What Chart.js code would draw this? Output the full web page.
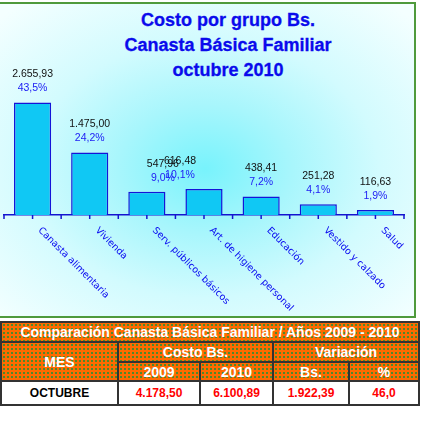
<!DOCTYPE html>
<html>
<head>
<meta charset="utf-8">
<script src="https://cdn.jsdelivr.net/npm/chart.js@4/dist/chart.umd.min.js"></script>
<style>
body { margin: 0; background: #fff; font-family: "Liberation Sans", Arial, sans-serif; }
#panel {
    position: absolute; left: 0; top: 2px; width: 414px; height: 312px;
    border: 2px solid #4f9a3c; border-left: none;
    background: radial-gradient(ellipse 290px 215px at 205px 165px, #78f3fc 0%, #a8f6fc 30%, #d2fbfe 60%, #f4ffff 100%);
}
#title {
    position: absolute; left: 90px; top: 8px; width: 276px; text-align: center;
    color: #0a0aec; font: bold 18px/25px "Liberation Sans", Arial, sans-serif;
    -webkit-text-stroke: 0.3px #0a0aec;
}
#wrap { position: absolute; left: 0; top: 0; width: 416px; height: 318px; }
#tbl {
    position: absolute; left: 0; top: 321px; width: 418px;
    border-collapse: collapse; table-layout: fixed;
}
#tbl td { border: 2px solid #333; padding: 0; text-align: center; font-weight: bold; }
#tbl tr.h td {
    color: #fff; background-color: #ff6a00;
    background-image: radial-gradient(circle, #4c8a2a 0.7px, transparent 1px);
    background-size: 4px 4px;
}
#tbl tr.h td { font-size: 14px; }
#tbl td.t { font-size: 13px; height: 18px; }
#tbl td.mes { font-size: 16px; }
#tbl tr.d td { background: #fff; color: #ff0000; font-size: 12px; height: 22px; }
#tbl tr.d td.m { color: #000; }
</style>
</head>
<body>
<div id="panel"></div>
<div id="title">Costo por grupo Bs.<br>Canasta Básica Familiar<br>octubre 2010</div>
<div id="wrap"><canvas id="myChart" width="416" height="318"></canvas></div>
<table id="tbl">
  <colgroup><col style="width:117px"><col style="width:82px"><col style="width:73px"><col style="width:76px"><col style="width:70px"></colgroup>
  <tr class="h"><td colspan="5" class="t" id="tblTitle"></td></tr>
  <tr class="h" style="height:20px"><td rowspan="2" class="mes">MES</td><td colspan="2">Costo Bs.</td><td colspan="2">Variación</td></tr>
  <tr class="h" style="height:19px"><td id="y0"></td><td id="y1"></td><td>Bs.</td><td>%</td></tr>
  <tr class="d"><td class="m" id="mes"></td><td id="c0"></td><td id="c1"></td><td id="vb"></td><td id="vp"></td></tr>
</table>
<script>
// datos del gráfico
var categorias = ['Canasta alimentaria', 'Vivienda', 'Serv. públicos básicos', 'Art. de higiene personal', 'Educación', 'Vestido y calzado', 'Salud'];
var costos = [2655.93, 1475.00, 547.96, 616.48, 438.41, 251.28, 116.63];
var porcentajes = [43.5, 24.2, 9.0, 10.1, 7.2, 4.1, 1.9];

// datos de la tabla
var tablaTitulo = 'Comparación Canasta Básica Familiar / Años 2009 - 2010';
var tablaMes = 'OCTUBRE';
var tablaAnios = ['2009', '2010'];
var tablaCostos = [4178.50, 6100.89];
var tablaVariacionBs = 1922.39;
var tablaVariacionPct = 46.0;

// formato 1.234,56
function formato(v, dec) {
    var partes = v.toFixed(dec).split('.');
    var entero = partes[0].replace(/\B(?=(\d{3})+(?!\d))/g, '.');
    return partes.length > 1 ? entero + ',' + partes[1] : entero;
}

document.getElementById('tblTitle').textContent = tablaTitulo;
document.getElementById('mes').textContent = tablaMes;
document.getElementById('y0').textContent = tablaAnios[0];
document.getElementById('y1').textContent = tablaAnios[1];
document.getElementById('c0').textContent = formato(tablaCostos[0], 2);
document.getElementById('c1').textContent = formato(tablaCostos[1], 2);
document.getElementById('vb').textContent = formato(tablaVariacionBs, 2);
document.getElementById('vp').textContent = formato(tablaVariacionPct, 1);

// etiquetas de valores, marcas del eje y categorías inclinadas
var etiquetas = {
    id: 'etiquetas',
    afterDatasetsDraw(chart, args, opts) {
        var ctx = chart.ctx;
        var xs = chart.scales.x;
        var meta = chart.getDatasetMeta(0);
        ctx.save();
        ctx.textAlign = 'center';
        ctx.textBaseline = 'middle';
        ctx.font = '10.5px "Liberation Sans"';
        meta.data.forEach(function (bar, i) {
            var x = bar.x + (opts.desplazar[i] || 0);
            ctx.fillStyle = '#111';
            ctx.fillText(formato(costos[i], 2), x, bar.y - 28);
            ctx.fillStyle = '#2020f4';
            ctx.fillText(formato(porcentajes[i], 1) + '%', x, bar.y - 14);
        });

        // marcas
        var mitad = (xs.getPixelForValue(1) - xs.getPixelForValue(0)) / 2;
        ctx.strokeStyle = '#1414d0';
        ctx.lineWidth = 1.5;
        ctx.beginPath();
        for (var i = 0; i < categorias.length; i++) {
            var c = xs.getPixelForValue(i);
            [c - mitad, c].forEach(function (px) {
                ctx.moveTo(px, xs.top);
                ctx.lineTo(px, xs.top + 4);
            });
        }
        ctx.moveTo(xs.right, xs.top);
        ctx.lineTo(xs.right, xs.top + 4);
        ctx.stroke();

        // categorías
        ctx.font = '9.5px "DejaVu Sans"';
        ctx.fillStyle = '#0606f0';
        ctx.textAlign = 'left';
        categorias.forEach(function (cat, i) {
            ctx.save();
            ctx.translate(xs.getPixelForValue(i) + 7, xs.top + 14);
            ctx.rotate(Math.PI / 4);
            ctx.fillText(cat, 0, 0);
            ctx.restore();
        });
        ctx.restore();
    }
};

var ctx = document.getElementById('myChart');
var myChart = new Chart(ctx, {
    type: 'bar',
    data: {
        labels: categorias,
        datasets: [{
            data: costos,
            backgroundColor: '#10c8f4',
            borderColor: '#1414d8',
            borderWidth: 1.5,
            categoryPercentage: 1,
            barPercentage: 0.65
        }]
    },
    options: {
        responsive: false,
        animation: false,
        layout: { padding: { left: 4, right: 12, top: 88, bottom: 0 } },
        scales: {
            x: {
                grid: { display: false },
                border: { color: '#1414d0', width: 1.5 },
                ticks: { display: false },
                afterFit: function (s) { s.height = 103; }
            },
            y: { display: false, min: 0, max: 3000 }
        },
        plugins: {
            legend: { display: false },
            tooltip: { enabled: false },
            etiquetas: { desplazar: [0, 0, 16, -24, 0, 0, 0] }
        }
    },
    plugins: [etiquetas]
});
</script>
</body>
</html>
